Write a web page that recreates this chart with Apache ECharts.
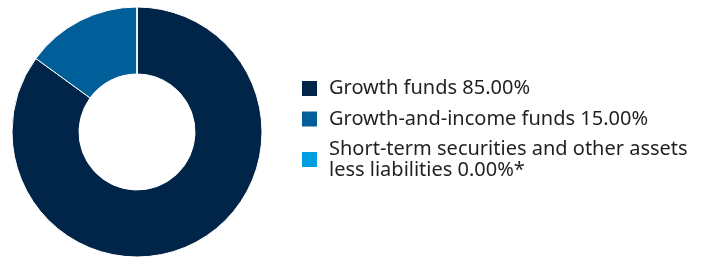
<!DOCTYPE html>
<html>
<head>
<meta charset="utf-8">
<script src="https://cdn.jsdelivr.net/npm/echarts@6/dist/echarts.min.js"></script>
<style>
  html, body { margin: 0; padding: 0; background: #fff; }
  #main { width: 707px; height: 258px; }
</style>
</head>
<body>
<div id="main"></div>
<script>
var categories = ['Growth funds', 'Growth-and-income funds', 'Short-term securities and other assets\nless liabilities'];
var values = [85.00, 15.00, 0.00];
var suffixes = ['', '', '*'];
var colors = ['#012549', '#005e99', '#009de0'];

var myChart = echarts.init(document.getElementById('main'));

var pieData = categories.map(function (name, i) {
    return { name: name, value: values[i], itemStyle: { color: colors[i] } };
});

var legendData = categories.map(function (name, i) {
    var item = { name: name, icon: 'rect' };
    if (name.indexOf('\n') >= 0) {
        // keep the square level with the first line of a wrapped label
        item.textStyle = { padding: [0, 0, -21, 7] };
    }
    return item;
});

var option = {
    animation: false,
    legend: {
        orient: 'vertical',
        left: 302,
        top: 78,
        padding: 0,
        itemWidth: 15,
        itemHeight: 15,
        itemGap: 9.5,
        selectedMode: false,
        itemStyle: { borderWidth: 0 },
        data: legendData,
        formatter: function (name) {
            var i = categories.indexOf(name);
            return name + ' ' + values[i].toFixed(2) + '%' + suffixes[i];
        },
        textStyle: {
            fontFamily: 'Noto Sans',
            fontSize: 20,
            lineHeight: 21,
            color: '#231f20',
            padding: [0, 0, 0, 7]
        }
    },
    series: [{
        type: 'pie',
        center: [137, 132],
        radius: [58, 125],
        startAngle: 90,
        clockwise: true,
        label: { show: false },
        labelLine: { show: false },
        emphasis: { disabled: true },
        itemStyle: { borderColor: '#fff', borderWidth: 1 },
        data: pieData
    }]
};
myChart.setOption(option);
</script>
</body>
</html>
